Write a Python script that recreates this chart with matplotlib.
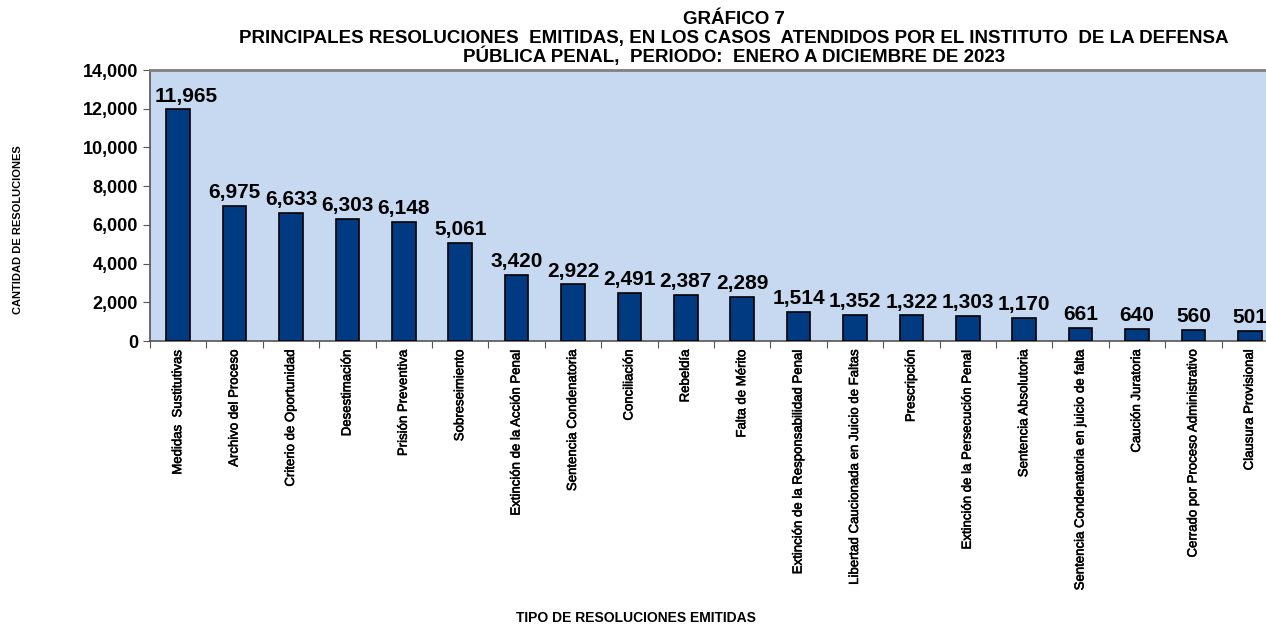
import matplotlib
matplotlib.use('Agg')
import matplotlib.pyplot as plt
import matplotlib.patheffects as pe
from matplotlib.ticker import FuncFormatter

plt.rcParams['font.family'] = ['Liberation Sans', 'DejaVu Sans']

# data
categorias = ['Medidas  Sustitutivas', 'Archivo del Proceso', 'Criterio de Oportunidad',
              'Desestimación', 'Prisión Preventiva', 'Sobreseimiento',
              'Extinción de la Acción Penal', 'Sentencia Condenatoria', 'Conciliación',
              'Rebeldía', 'Falta de Mérito', 'Extinción de la Responsabilidad Penal',
              'Libertad Caucionada en Juicio de Faltas', 'Prescripción',
              'Extinción de la Persecución Penal', 'Sentencia Absolutoria',
              'Sentencia Condenatoria en juicio de falta', 'Caución Juratoria',
              'Cerrado por Proceso Administrativo', 'Clausura Provisional']
valores = [11965, 6975, 6633, 6303, 6148, 5061, 3420, 2922, 2491, 2387,
           2289, 1514, 1352, 1322, 1303, 1170, 661, 640, 560, 501]
y_ticks = [0, 2000, 4000, 6000, 8000, 10000, 12000, 14000]

fig = plt.figure(figsize=(12.66, 6.25), dpi=100)
# plot area runs past the right edge like in the original
ax = fig.add_axes([150 / 1266, 1 - 341 / 625, 1128 / 1266, 271 / 625])
ax.set_facecolor('#C6D9F0')

x = range(len(valores))
ax.bar(x, valores, width=0.42, color='#003A80', edgecolor='black', linewidth=1.2, zorder=3)

for i, v in zip(x, valores):
    if i == 0:
        # first label is pushed inside the plot area, like Excel does
        ax.text(i - 0.42, v + 200, f'{v:,}', ha='left', va='bottom', fontsize=15, fontweight='bold')
    else:
        ax.text(i, v + 200, f'{v:,}', ha='center', va='bottom', fontsize=15, fontweight='bold')

ax.set_xlim(-0.5, len(valores) - 0.5)
ax.set_ylim(0, 14000)
ax.set_yticks(y_ticks)
ax.yaxis.set_major_formatter(FuncFormatter(lambda v, p: f'{int(v):,}'))
for lab in ax.get_yticklabels():
    lab.set_fontweight('bold')
    lab.set_fontsize(13)

# category ticks between bars, labels centred under bars
ax.set_xticks([i - 0.5 for i in x] + [len(valores) - 0.5])
ax.set_xticklabels([])
ax.set_xticks(list(x), minor=True)
ax.set_xticklabels(categorias, minor=True, rotation=90, fontsize=9.5, va='top')
for lab in ax.get_xticklabels(minor=True):
    lab.set_path_effects([pe.withStroke(linewidth=0.4, foreground='black')])
ax.tick_params(axis='x', which='minor', length=0, pad=6)
ax.tick_params(axis='x', which='major', length=5, color='#555555', direction='out')
ax.tick_params(axis='y', length=5, color='#555555', direction='out')

for s in ['top', 'right']:
    ax.spines[s].set_color('#808080')
    ax.spines[s].set_linewidth(2)
for s in ['left', 'bottom']:
    ax.spines[s].set_color('#555555')
    ax.spines[s].set_linewidth(1.2)

fig.text(734 / 1266, 1 - 19 / 625, 'GRÁFICO 7', ha='center', va='center',
         fontsize=13.5, fontweight='bold')
fig.text(734 / 1266, 1 - 38 / 625,
         'PRINCIPALES RESOLUCIONES  EMITIDAS, EN LOS CASOS  ATENDIDOS POR EL INSTITUTO  DE LA DEFENSA',
         ha='center', va='center', fontsize=13.5, fontweight='bold')
fig.text(734 / 1266, 1 - 56 / 625, 'PÚBLICA PENAL,  PERIODO:  ENERO A DICIEMBRE DE 2023',
         ha='center', va='center', fontsize=13.5, fontweight='bold')

fig.text(18 / 1266, 1 - 230 / 625, 'CANTIDAD DE RESOLUCIONES', rotation=90,
         ha='center', va='center', fontsize=8, fontweight='bold')
fig.text(636 / 1266, 1 - 618 / 625, 'TIPO DE RESOLUCIONES EMITIDAS',
         ha='center', va='center', fontsize=10, fontweight='bold')

fig.savefig('out.png', dpi=100)
